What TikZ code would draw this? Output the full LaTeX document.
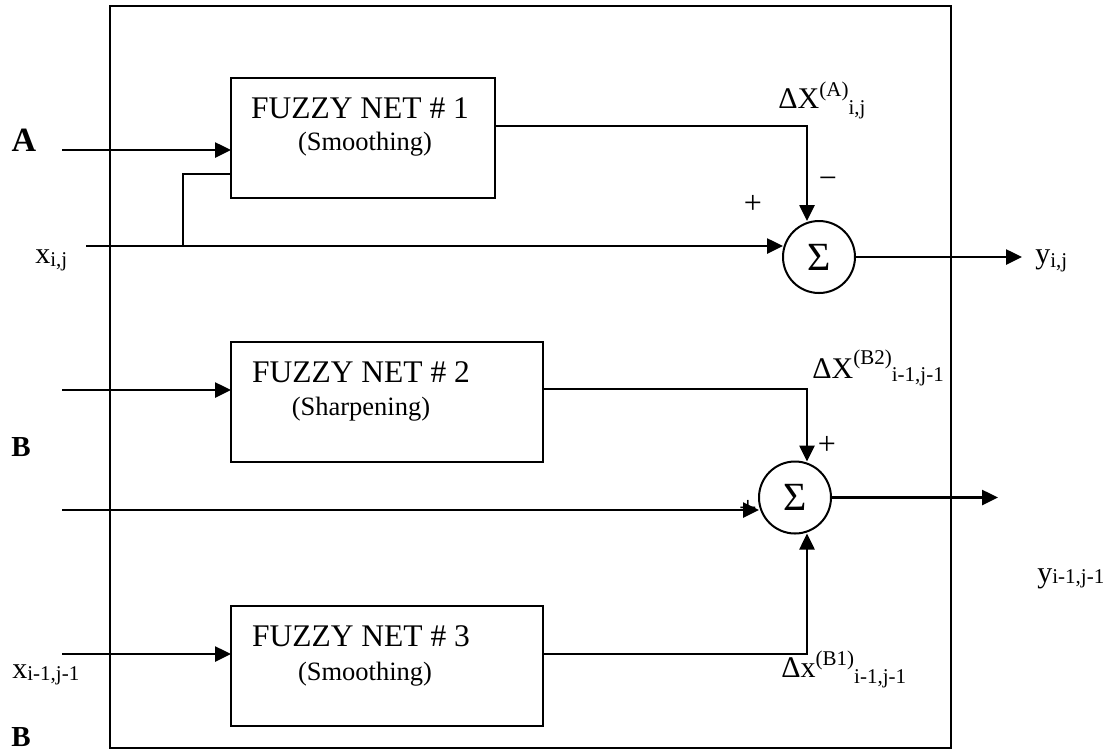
\documentclass[tikz,border=0pt]{standalone}
\usepackage{fontspec}
\setmainfont{Liberation Serif}
\usetikzlibrary{arrows.meta,calc}
\newcommand\supx[2]{\raisebox{#1}{\fontsize{10.5}{12}\selectfont #2}}
\newcommand\subx[2]{\raisebox{-#1}{\fontsize{10.5}{12}\selectfont #2}}
\begin{document}
\begin{tikzpicture}[x=0.5pt,y=-0.5pt,
  thickline/.style={line width=1.3pt},
  arr/.style={line width=1.3pt,-{Triangle[length=8pt,width=7.5pt]}},
  fuzzybox/.style={draw,line width=1.3pt,inner sep=0pt,outer sep=0pt,minimum height=60pt},
  outerframe/.style={draw,line width=1.4pt,inner sep=0pt,outer sep=0pt},
  sumnode/.style={draw,circle,line width=1pt,minimum size=36pt,inner sep=0pt,outer sep=0pt,font=\fontsize{20}{22}\selectfont},
  ttl/.style={inner sep=0pt,anchor=base,font=\fontsize{15.75}{18}\selectfont},
  subttl/.style={inner sep=0pt,anchor=base,font=\fontsize{13.25}{16}\selectfont},
  lbl/.style={inner sep=0pt,anchor=base west,font=\fontsize{15}{18}\selectfont},
  sgn/.style={inner sep=0pt,font=\fontsize{16}{18}\selectfont},
  blbl/.style={inner sep=0pt,font=\bfseries\fontsize{14.5}{18}\selectfont}]
\useasboundingbox (0,0) rectangle (1110,752);
% frame and blocks
\node[outerframe,minimum width=420.5pt,minimum height=371pt] (frame) at (530.5,377) {};
\node[fuzzybox,minimum width=132pt] (net1) at (363,138) {};
\node[fuzzybox,minimum width=156pt] (net2) at (387,402) {};
\node[fuzzybox,minimum width=156pt] (net3) at (387,666) {};
\node[ttl] (t1) at (360,118) {FUZZY NET \# 1};
\node[subttl] (s1) at (365,150) {(Smoothing)};
\node[ttl] (t2) at (361,382) {FUZZY NET \# 2};
\node[subttl] (s2) at (361,415) {(Sharpening)};
\node[ttl] (t3) at (361,646) {FUZZY NET \# 3};
\node[subttl] (s3) at (365,680) {(Smoothing)};
\node[sumnode] (sum1) at (819,257) {Σ};
\node[sumnode] (sum2) at (795,497.5) {Σ};
% connector coordinates
\coordinate (ain) at (62,150);
\coordinate (xin) at (86,246);
\coordinate (br) at (183,246);
\coordinate (brtop) at (183,174);
\coordinate (b2in) at (62,390);
\coordinate (midin) at (62,510);
\coordinate (b3in) at (62,654);
\coordinate (c1) at (807,126);
\coordinate (c2) at (807,389);
\coordinate (c3) at (807,654);
\coordinate (y1out) at (1022,257);
\coordinate (y2out) at (998,497.5);
% connectors
\draw[arr] (ain) -- (ain -| net1.west);
\draw[arr] (xin) -- (xin -| sum1.west);
\draw[thickline] (br) -- (brtop) -- (brtop -| net1.west);
\draw[arr] (c1 -| net1.east) -- (c1) -- (c1 |- sum1.north);
\draw[arr] (sum1.east) -- (y1out);
\draw[arr] (b2in) -- (b2in -| net2.west);
\draw[arr] (c2 -| net2.east) -- (c2) -- (c2 |- sum2.north);
\draw[arr] (midin) -- (midin -| sum2.west);
\draw[arr] (b3in) -- (b3in -| net3.west);
\draw[arr] (c3 -| net3.east) -- (c3) -- (c3 |- sum2.south);
\draw[arr] (sum2.east) -- (y2out);
% labels
\node[blbl,font=\bfseries\fontsize{17}{20}\selectfont] (labA) at (24,140) {A};
\node[blbl] (labB1) at (21,447) {B};
\node[blbl] (labB2) at (21,737) {B};
\node[lbl] (lxij) at (35,263) {x\subx{1.5pt}{i,j}};
\node[lbl] (lxim) at (12,678) {x\subx{1pt}{i-1,j-1}};
\node[lbl] (lyij) at (1035,263) {y\subx{2pt}{i,j}};
\node[lbl] (lyim) at (1037,582) {y\subx{0.5pt}{i-1,j-1}};
\node[lbl] (ldA) at (778,108) {ΔX\supx{6pt}{(A)}\subx{3pt}{i,j}};
\node[lbl] (ldB2) at (812,378) {ΔX\supx{7pt}{(B2)}\subx{1.5pt}{i-1,j-1}};
\node[lbl] (ldB1) at (781,677) {Δx\supx{6pt}{(B1)}\subx{3pt}{i-1,j-1}};
\node[sgn] (m1) at (828,183) {−};
\node[sgn] (p1) at (753,204) {+};
\node[sgn] (p2) at (827,445) {+};
\node[sgn] (p3) at (748,509) {+};
\end{tikzpicture}
\end{document}
